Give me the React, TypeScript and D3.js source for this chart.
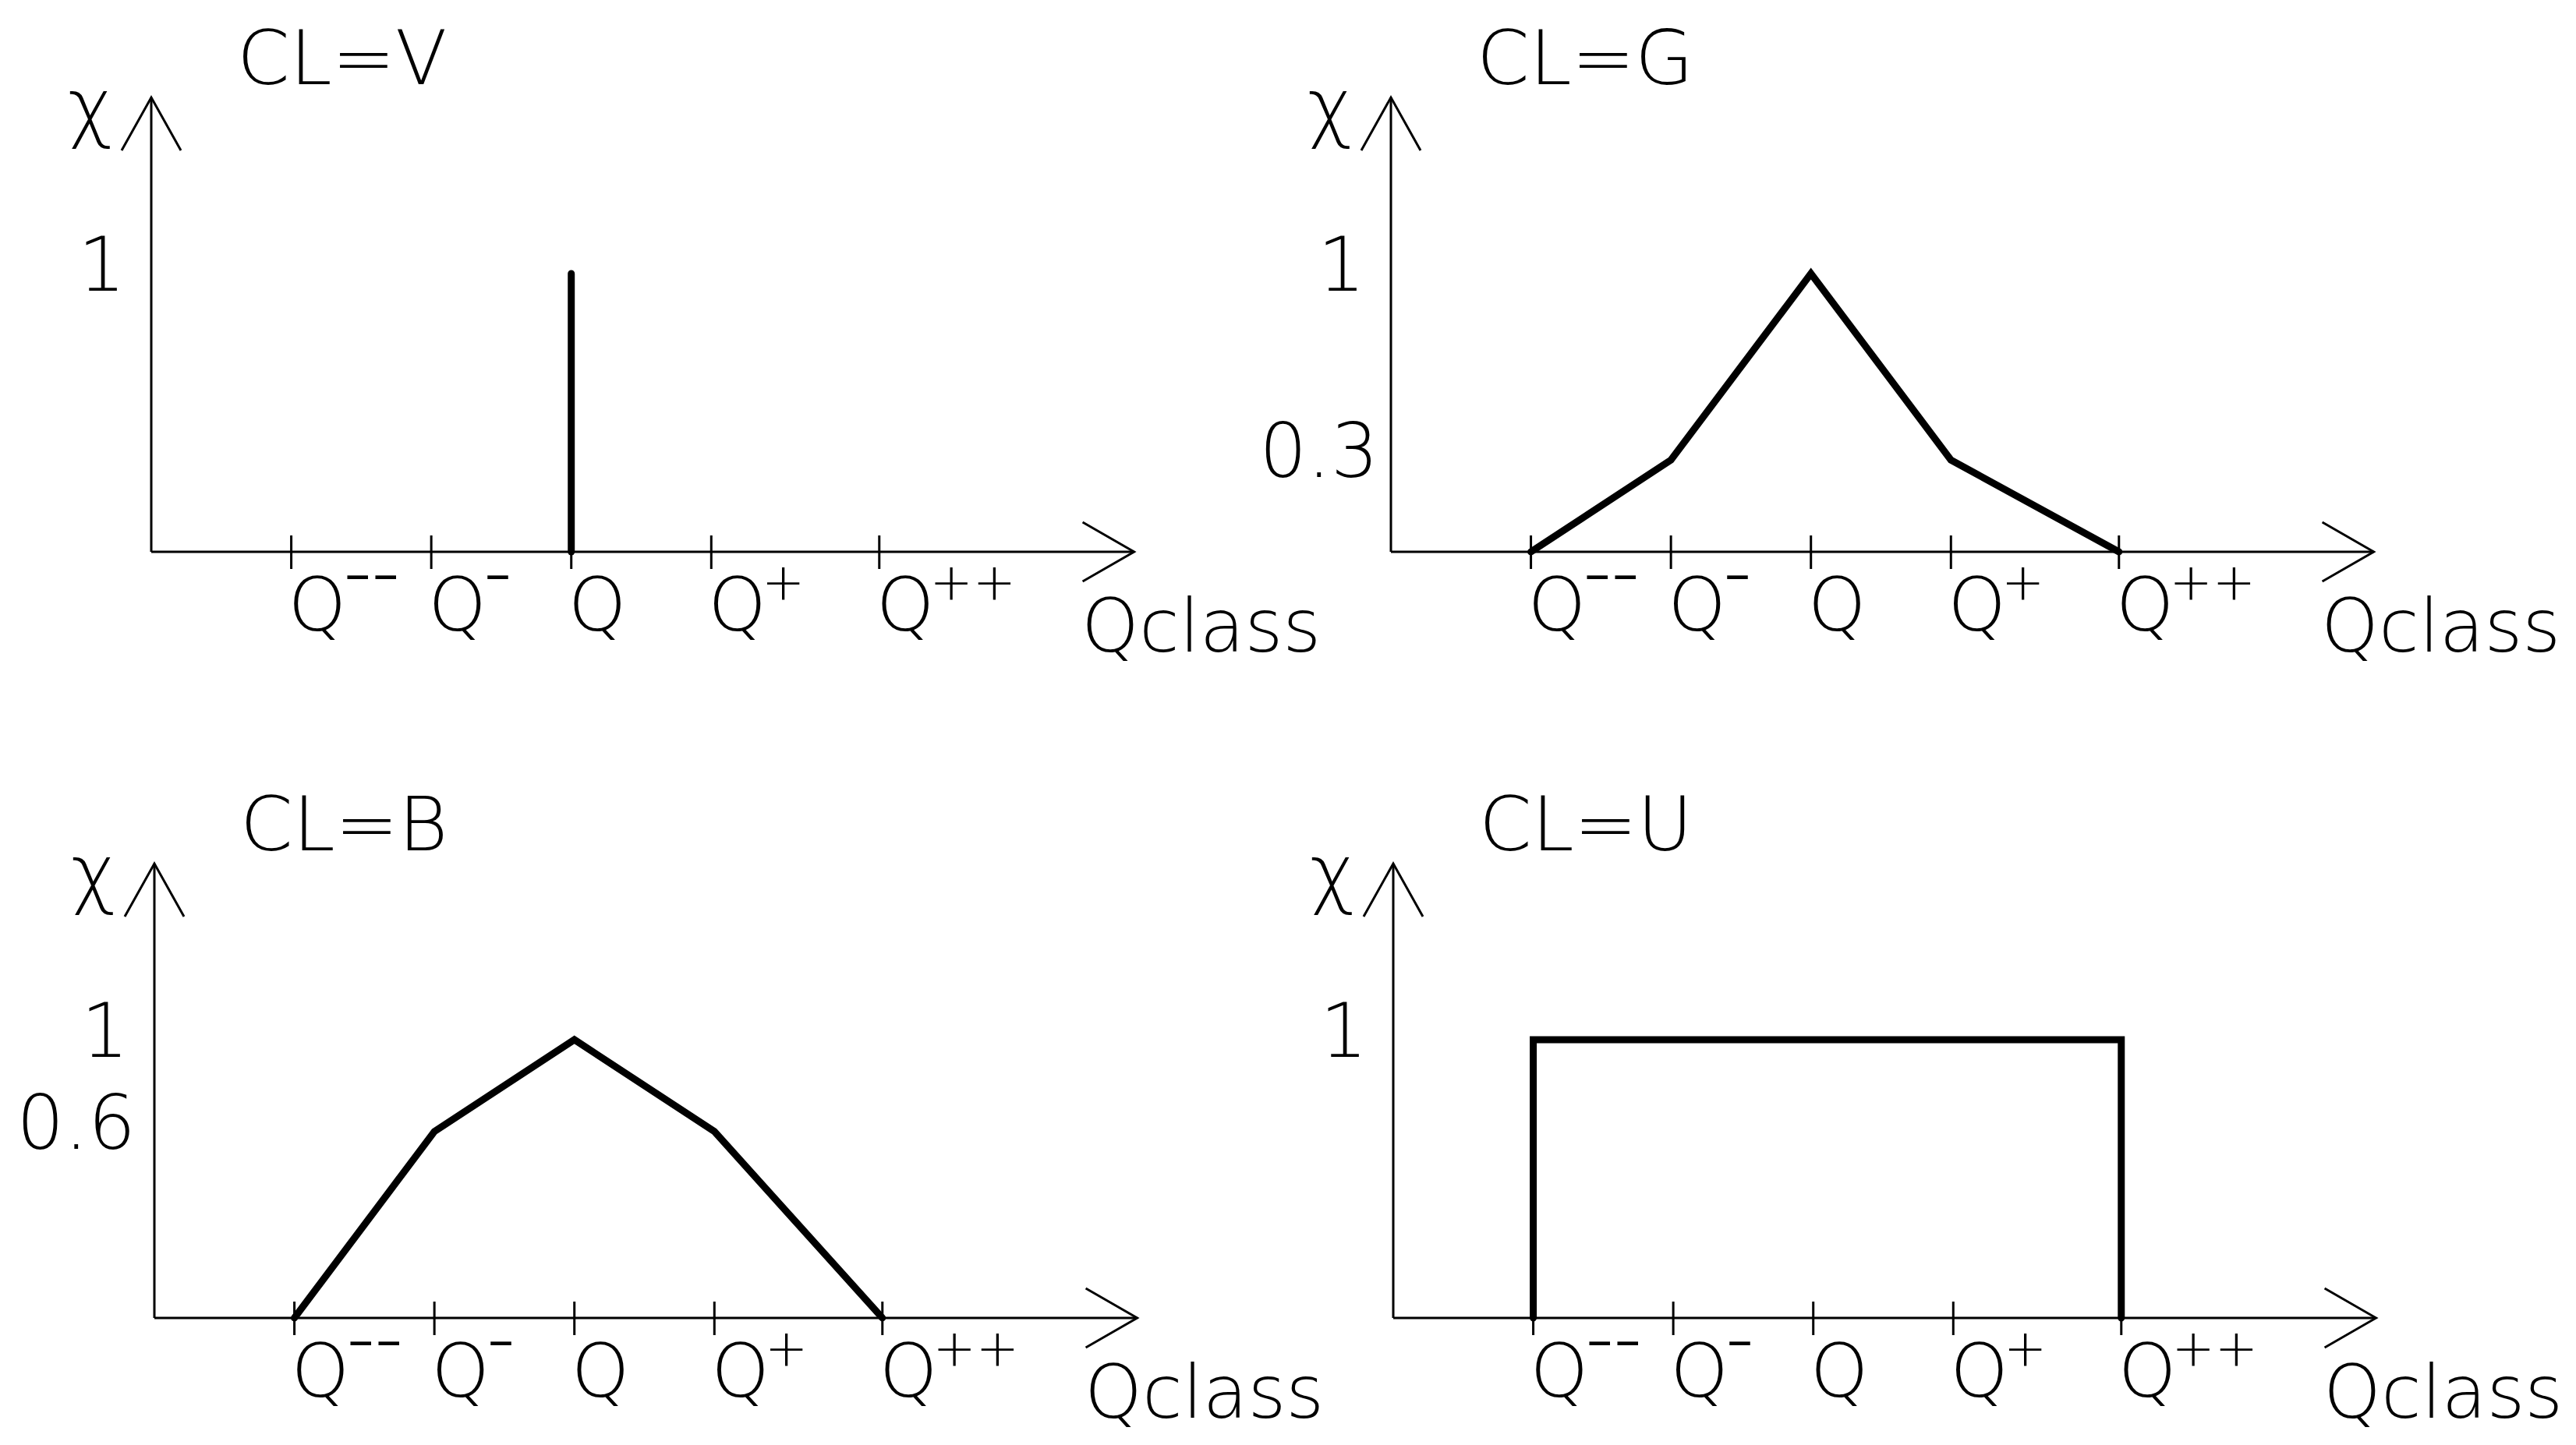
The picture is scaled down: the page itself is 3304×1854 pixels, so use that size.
import React from "react";
import * as d3 from "d3";

// ---- data ----
const categories = ["Q--", "Q-", "Q", "Q+", "Q++"];
const categoryBase = ["Q", "Q", "Q", "Q", "Q"];
const categorySup = ["\u2013\u2013", "\u2013", "", "+", "++"];
const categoryPos = [1, 2, 3, 4, 5.2];

const titles = ["CL=V", "CL=G", "CL=B", "CL=U"];

const seriesV = [
  { c: "Q", v: 0 },
  { c: "Q", v: 1 },
];
const seriesG = [
  { c: "Q--", v: 0 },
  { c: "Q-", v: 0.33 },
  { c: "Q", v: 1 },
  { c: "Q+", v: 0.33 },
  { c: "Q++", v: 0 },
];
const seriesB = [
  { c: "Q--", v: 0 },
  { c: "Q-", v: 0.67 },
  { c: "Q", v: 1 },
  { c: "Q+", v: 0.67 },
  { c: "Q++", v: 0 },
];
const seriesU = [
  { c: "Q--", v: 0 },
  { c: "Q--", v: 1 },
  { c: "Q++", v: 1 },
  { c: "Q++", v: 0 },
];

const yTicksV = [{ v: 1, label: "1" }];
const yTicksG = [
  { v: 1, label: "1" },
  { v: 0.33, label: "0.3" },
];
const yTicksB = [
  { v: 1, label: "1" },
  { v: 0.67, label: "0.6" },
];
const yTicksU = [{ v: 1, label: "1" }];

const xAxisLabel = "Qclass";
const yAxisLabel = "\u03c7";

// ---- layout ----
const W = 3304;
const H = 1854;
const FONT = "'DejaVu Sans', sans-serif";
const WEIGHT = 200;

const panels = [
  { ox: 194, oy: 708, title: titles[0], data: seriesV, ticks: yTicksV },
  { ox: 1784, oy: 708, title: titles[1], data: seriesG, ticks: yTicksG },
  { ox: 198, oy: 1691, title: titles[2], data: seriesB, ticks: yTicksB },
  { ox: 1787, oy: 1691, title: titles[3], data: seriesU, ticks: yTicksU },
];

function Panel({ p }: { p: any }) {
  const { ox, oy } = p;
  const x = d3.scaleLinear().domain([0, 7]).range([ox, ox + 1257]);
  const y = d3.scaleLinear().domain([0, 1]).range([oy, oy - 357]);
  const xMax = 7.02;
  const yMax = 1.633;
  const catX = (c: string) => x(categoryPos[categories.indexOf(c)]);

  const line = d3
    .line<any>()
    .x((d) => catX(d.c))
    .y((d) => y(d.v));

  const axisStroke = 3;
  const ax = x(xMax);
  const ay = y(yMax);

  return (
    <g fontFamily={FONT} fontWeight={WEIGHT}>
      {/* title */}
      <text x={ox + 110} y={oy - 600} fontSize={97}>
        {p.title}
      </text>
      {/* y axis label */}
      <text x={ox - 78} y={oy - 537} fontSize={98} textAnchor="middle">
        {yAxisLabel}
      </text>
      {/* axes */}
      <line x1={ox} y1={oy} x2={ax} y2={oy} stroke="#000" strokeWidth={axisStroke} />
      <line x1={ox} y1={oy} x2={ox} y2={ay} stroke="#000" strokeWidth={axisStroke} />
      {/* arrow heads */}
      <polyline
        points={`${ax - 66},${oy - 38} ${ax},${oy} ${ax - 66},${oy + 38}`}
        fill="none"
        stroke="#000"
        strokeWidth={axisStroke}
      />
      <polyline
        points={`${ox - 38},${ay + 68} ${ox},${ay} ${ox + 38},${ay + 68}`}
        fill="none"
        stroke="#000"
        strokeWidth={axisStroke}
      />
      {/* x ticks */}
      {categories.map((c, i) => {
        const tx = x(categoryPos[i]);
        const sup = categorySup[i];
        const isPlus = sup.indexOf("+") >= 0;
        return (
          <g key={c}>
            <line x1={tx} y1={oy - 21} x2={tx} y2={oy + 22} stroke="#000" strokeWidth={3} />
            <text x={tx - 4} y={oy + 101} fontSize={95}>
              {categoryBase[i]}
              {sup && (
                <tspan
                  fontSize={66}
                  fontWeight={isPlus ? WEIGHT : 500}
                  dx={isPlus ? -6 : -2}
                  dy={isPlus ? -40 : -50}
                  letterSpacing={isPlus ? 0 : 3}
                >
                  {sup}
                </tspan>
              )}
            </text>
          </g>
        );
      })}
      {/* y tick labels */}
      {p.ticks.map((t: any) => (
        <text
          key={t.label}
          x={t.label === "1" ? ox - 33 : t.label === "0.3" ? ox - 16 : ox - 24}
          y={y(t.v) + 22}
          fontSize={96}
          textAnchor="end"
        >
          {t.label}
        </text>
      ))}
      {/* x axis label */}
      <text x={ox + 1193} y={oy + 128} fontSize={94}>
        {xAxisLabel}
      </text>
      {/* data */}
      <path
        d={line(p.data) || ""}
        fill="none"
        stroke="#000"
        strokeWidth={9}
        strokeLinejoin="miter"
        strokeLinecap="round"
      />
    </g>
  );
}

export default function App() {
  return (
    <svg
      width={W}
      height={H}
      viewBox={`0 0 ${W} ${H}`}
      style={{ position: "absolute", left: 0, top: 0, background: "#fff" }}
    >
      <rect x={0} y={0} width={W} height={H} fill="#fff" />
      {panels.map((p, i) => (
        <Panel key={i} p={p} />
      ))}
    </svg>
  );
}
